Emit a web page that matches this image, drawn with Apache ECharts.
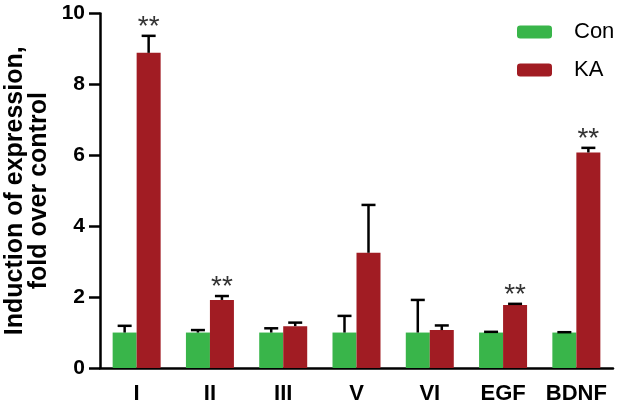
<!DOCTYPE html>
<html>
<head>
<meta charset="utf-8">
<script src="https://cdn.jsdelivr.net/npm/echarts@6/dist/echarts.min.js"></script>
<style>
html,body{margin:0;padding:0;background:#fff;}
#chart{width:640px;height:407px;}
</style>
</head>
<body>
<div id="chart"></div>
<script>
var categories = ['I', 'II', 'III', 'V', 'VI', 'EGF', 'BDNF'];
var conValues = [1.0, 1.0, 1.0, 1.0, 1.0, 1.0, 1.0];
var conErrors = [0.19, 0.07, 0.12, 0.47, 0.92, 0.02, 0.01];
var kaValues = [8.89, 1.92, 1.18, 3.25, 1.07, 1.78, 6.08];
var kaErrors = [0.48, 0.11, 0.10, 1.35, 0.13, 0.03, 0.13];
var significance = ['**', '**', '', '', '', '**', '**'];
var yTicks = [0, 2, 4, 6, 8, 10];

var BAR_W = 24;
var GREEN = '#39B54A';
var RED = '#A11C23';

function errorRenderer(values, errors, offset, showSig) {
  return function (params, api) {
    var i = api.value(0);
    var top = api.coord([i, values[i] + errors[i]]);
    var base = api.coord([i, values[i]]);
    var x = base[0] + offset;
    var cap = 7;
    var children = [
      {type: 'line', shape: {x1: x, y1: base[1], x2: x, y2: top[1]}, style: {stroke: '#000', lineWidth: 2.5}},
      {type: 'line', shape: {x1: x - cap, y1: top[1], x2: x + cap, y2: top[1]}, style: {stroke: '#000', lineWidth: 2.5}}
    ];
    if (showSig && significance[i]) {
      children.push({
        type: 'text',
        style: {
          text: significance[i], x: x, y: top[1] + 5,
          align: 'center', verticalAlign: 'bottom',
          font: '28px Liberation Sans, Arial, sans-serif', fill: '#333'
        }
      });
    }
    return {type: 'group', children: children};
  };
}

var chart = echarts.init(document.getElementById('chart'), null, {renderer: 'canvas'});
chart.setOption({
  animation: false,
  backgroundColor: '#fff',
  textStyle: {fontFamily: 'Liberation Sans, Arial, sans-serif'},
  grid: {left: 100, right: 27, top: 13.5, bottom: 39, containLabel: false, outerBoundsMode: 'none'},
  legend: {
    orient: 'vertical',
    left: 512, top: 16,
    itemWidth: 35, itemHeight: 13, itemGap: 16,
    textStyle: {fontSize: 22, color: '#000', padding: [0, 0, 0, 17]},
    data: ['Con', 'KA']
  },
  xAxis: {
    type: 'category',
    data: categories,
    axisLine: {lineStyle: {color: '#000', width: 2.5}},
    axisTick: {alignWithLabel: true, length: 10, lineStyle: {color: '#000', width: 2.5}},
    axisLabel: {interval: 0, fontSize: 22, fontWeight: 'bold', color: '#000', margin: 15},
    splitLine: {show: false}
  },
  yAxis: {
    type: 'value',
    min: 0, max: 10, interval: 2,
    name: 'Induction of expression,\nfold over control',
    nameLocation: 'middle',
    nameGap: 49,
    nameMoveOverlap: false,
    nameTextStyle: {fontSize: 25, fontWeight: 'bold', color: '#000', lineHeight: 24},
    axisLine: {show: true, lineStyle: {color: '#000', width: 2.5}},
    axisTick: {show: true, length: 11, lineStyle: {color: '#000', width: 2.5}},
    axisLabel: {fontSize: 21, fontWeight: 'bold', color: '#000', margin: 15,
      formatter: function (v) { return yTicks.indexOf(v) >= 0 ? String(v) : ''; }},
    splitLine: {show: false}
  },
  series: [
    {name: 'Con', type: 'bar', data: conValues, barWidth: BAR_W, barGap: '0%', itemStyle: {color: GREEN}, z: 2},
    {name: 'KA', type: 'bar', data: kaValues, barWidth: BAR_W, barGap: '0%', itemStyle: {color: RED}, z: 2},
    {name: 'conErr', type: 'custom', data: categories.map(function (c, i) { return [i, conValues[i] + conErrors[i]]; }),
      renderItem: errorRenderer(conValues, conErrors, -BAR_W / 2, false), z: 3, silent: true},
    {name: 'kaErr', type: 'custom', data: categories.map(function (c, i) { return [i, kaValues[i] + kaErrors[i]]; }),
      renderItem: errorRenderer(kaValues, kaErrors, BAR_W / 2, true), z: 3, silent: true}
  ]
});
</script>
</body>
</html>
